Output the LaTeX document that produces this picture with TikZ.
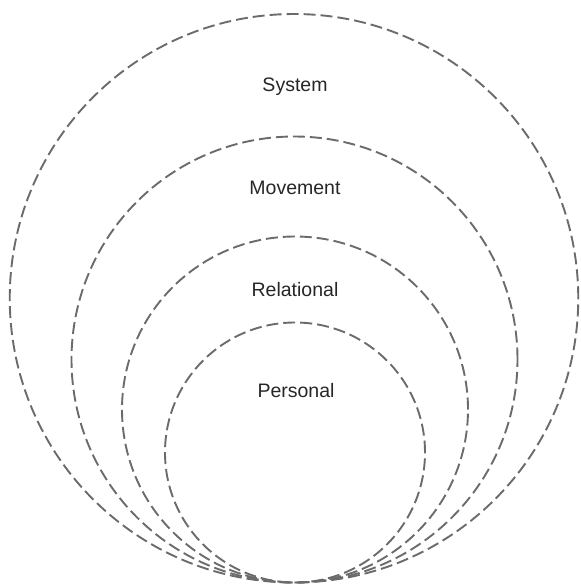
\documentclass[tikz,border=0pt]{standalone}
\usepackage{fontspec}
\setmainfont{Liberation Sans}
\begin{document}
\begin{tikzpicture}[x=1pt,y=-1pt,
  ring/.style={draw=black!58, line width=1.9pt, dash pattern=on 12pt off 5pt},
  lbl/.style={font=\fontsize{19.5}{22}\selectfont, text=black!85, anchor=base, inner sep=0pt}]
\useasboundingbox (0,0) rectangle (581,587);
\draw[ring] (294,298.25) circle (284.25pt);
\draw[ring] (294.5,359.5) circle (223pt);
\draw[ring] (295,409.5) circle (173pt);
\draw[ring] (295,452.5) circle (130pt);
\node[lbl] (system) at (295,91) {System};
\node[lbl] (movement) at (295,194) {Movement};
\node[lbl] (relational) at (295,296) {Relational};
\node[lbl] (personal) at (296,397) {Personal};
\end{tikzpicture}
\end{document}
